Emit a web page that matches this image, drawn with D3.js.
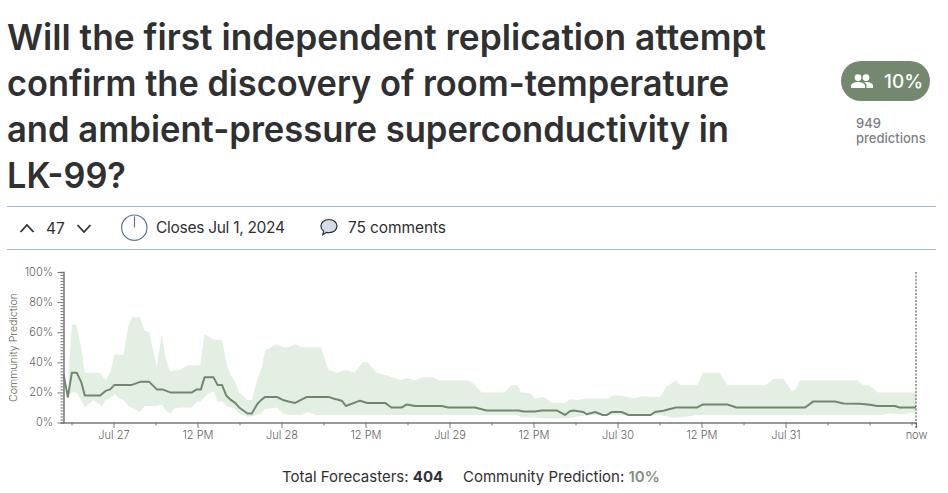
<!DOCTYPE html>
<html><head><meta charset="utf-8">
<script src="https://cdn.jsdelivr.net/npm/d3@7"></script>
<style>
html,body{margin:0;padding:0;background:#fff;overflow:hidden}
svg{display:block;font-family:Inter,sans-serif}
</style></head><body>
<svg id="c" width="948" height="493"></svg>
<script>
// Hours since Jul 27 00:00, value in %
const medianPts=[[-7.14,32],[-6.52,17],[-5.95,33],[-5.24,33],[-4.62,27],[-4.1,18],[-1.9,18],[-1.14,21],[-0.48,22],[0.14,25],[2.62,25],[3.81,27],[5.1,27],[6.19,22],[7,22],[8.1,20],[11.2,20],[11.9,22],[12.48,22],[13,30],[14.29,30],[14.86,25],[15.5,25],[16.1,18],[16.76,15],[17.38,13],[17.95,10],[19.14,6],[19.76,6],[20.5,12],[21.1,15],[21.67,17],[23.33,17],[24.19,15],[25,14],[25.95,13],[27.62,17],[30.69,17],[31.4,16],[32.6,14.5],[33.2,11],[35.2,14.5],[36.26,13],[38.8,13],[39.7,10],[41.2,10],[41.9,12],[43.07,11],[46.9,11],[47.83,10],[51.64,10],[53.3,8],[57.83,8],[58.55,7.3],[60.2,7.3],[61.2,8],[63.3,8],[64.5,5],[65.2,7.5],[65.7,8],[67.1,7],[67.6,5.5],[68.8,7],[69.9,5],[70.5,5],[71.2,7],[72.6,7],[73.55,5],[76.74,5],[77.36,7],[78.55,7.8],[79.5,9],[80.36,10],[83.4,10],[84.2,12],[87.7,12],[89,10],[98.8,10],[99.98,14],[103.07,14],[104.26,12.6],[106.65,12.4],[108.07,11.8],[109.1,11],[111.65,11],[112.27,10],[114.64,10]];
const upperPts=[[-7.14,32],[-6.52,20],[-6.33,40],[-5.95,65],[-5.33,65],[-4.62,50],[-4.1,33],[-1.9,33],[-1.14,28],[-0.48,33],[0.14,45],[1.43,45],[2.1,64],[2.62,70],[3.81,70],[4.43,61],[5.1,60],[6.19,37],[6.9,59],[7.48,42],[8.1,34],[9.52,35],[10.5,38],[12.38,38],[13,59],[14.29,55],[15.5,55],[16.2,38],[16.76,31],[17.29,28],[17.95,20],[19.14,15],[19.76,15],[20.5,28],[21.1,35],[21.67,48],[23.33,52],[24.19,50],[25,50],[25.95,52],[26.9,50],[29.64,50],[30.69,35],[31.88,33],[33.2,35],[34.4,33],[35.6,40],[36.26,40],[37.6,33],[39.26,31],[41.02,28],[41.8,29.5],[43.07,28],[44.26,30],[45.7,30],[46.4,28],[50.45,28],[51.4,26],[52.6,20],[55.9,20],[56.9,25],[57.7,25],[58.2,20],[59.5,19.5],[60.2,16],[61.2,17],[61.9,16],[62.6,13],[64.5,13],[65.2,15.5],[66.2,15],[67.6,16],[70.7,16],[71.2,18],[72.36,18],[74.5,16],[75.5,17.5],[78.07,17],[79,24],[80.36,28],[80.93,25],[83.4,25],[84.2,33],[86.55,33],[87.7,25],[93.2,25],[94.26,29],[95.7,29],[96.88,21],[97.45,22],[98.07,28],[106.17,28],[107.1,25],[108,24.6],[109.26,20],[114.64,20]];
const lowerPts=[[-7.14,32],[-6.52,17],[-5.95,20],[-5.33,20],[-4.62,15],[-4.1,10],[-2.86,15],[-1.67,11],[-1.14,15],[-0.48,16],[0.14,19],[0.86,16],[1.43,15],[2.14,11],[3.81,7],[4.43,11],[6.19,11],[6.9,12],[7.48,8],[8.1,6],[8.8,9.5],[9.52,10],[11.2,10],[11.9,14],[12.48,14],[13,17],[13.57,19],[14.29,21],[14.86,14],[15.5,14],[16.2,11],[17.38,9],[17.95,6],[19.14,4],[19.76,4],[21.1,6],[21.67,9],[23.33,10],[24.19,6],[25,5],[26.9,5],[27.62,7],[29,5],[57.6,5],[58.3,3.3],[60,3.3],[62.35,2.7],[64.7,2.7],[66.2,4],[68.5,5],[78,5],[80,3],[80.7,3.3],[82.6,4.4],[83,5],[109.5,5],[110.9,6],[112.36,5.3],[113.3,5.8],[114.64,7]];
const xTickHours=[-6,0,6,12,18,24,30,36,42,48,54,60,66,72,78,84,90,96,102,108,114,114.64];
const xTickLabels={0:"Jul 27",12:"12 PM",24:"Jul 28",36:"12 PM",48:"Jul 29",60:"12 PM",72:"Jul 30",84:"12 PM",96:"Jul 31",114.64:"now"};
const yMajor=[0,20,40,60,80,100];
const titleLines=["Will the first independent replication attempt","confirm the discovery of room-temperature","and ambient-pressure superconductivity in","LK-99?"];

const svg=d3.select("#c");
const ink="#2f3032";
const x=d3.scaleLinear().domain([0,114.64]).range([113.5,916]);
const y=d3.scaleLinear().domain([0,100]).range([422.5,272]);

// Title: each line fitted to the reference's measured width
const titleWidths=[759,722,722,119];
svg.append("g").selectAll("text").data(titleLines).join("text")
 .attr("x",7).attr("y",(d,i)=>50+i*46).text(d=>d)
 .attr("textLength",(d,i)=>titleWidths[i]).attr("lengthAdjust","spacingAndGlyphs")
 .attr("font-size",35.5).attr("font-weight",600).attr("fill",ink);

// Pill
svg.append("rect").attr("x",841).attr("y",61).attr("width",89).attr("height",40).attr("rx",20).attr("fill","#748870");
const u=svg.append("g").attr("fill","#fff").attr("transform","translate(851,74)");
u.append("circle").attr("cx",7).attr("cy",3.6).attr("r",3.4);
u.append("circle").attr("cx",15).attr("cy",3.6).attr("r",3.4);
u.append("path").attr("d","M0 14v-2.2c0-2.6 4-3.8 7-3.8s7 1.2 7 3.800V14z");
u.append("path").attr("d","M15.5 14v-2.4c0-1.5-.8-2.6-2-3.4.6-.1 1.2-.2 1.7-.2 3 0 6.8 1.2 6.8 3.6V14z");
svg.append("text").attr("x",884).attr("y",88).text("10%").attr("font-size",19).attr("font-weight",500).attr("fill","#fff");
svg.append("text").attr("x",856).attr("y",128).text("949").attr("font-size",13).attr("font-weight",500).attr("fill","#7b7f86");
svg.append("text").attr("x",856).attr("y",143).text("predictions").attr("font-size",13).attr("font-weight",500).attr("fill","#7b7f86");

// Toolbar
[206.5,249.5].forEach(v=>svg.append("line").attr("x1",7).attr("x2",936).attr("y1",v).attr("y2",v).attr("stroke","#a6b9d6").attr("stroke-width",1));
svg.append("path").attr("d","M20.500 232l6.500-7 6.500 7").attr("fill","none").attr("stroke",ink).attr("stroke-width",1.8);
svg.append("path").attr("d","M77.500 225l6.500 7 6.500-7").attr("fill","none").attr("stroke",ink).attr("stroke-width",1.8);
svg.append("text").attr("x",46).attr("y",233.500).text("47").attr("font-size",15.5).attr("fill",ink);
svg.append("circle").attr("cx",134.3).attr("cy",227.7).attr("r",12.7).attr("fill","none").attr("stroke","#62748e").attr("stroke-width",1.2);
svg.append("line").attr("x1",134.5).attr("x2",134.5).attr("y1",216.5).attr("y2",227.5).attr("stroke","#62748e").attr("stroke-width",1.2);
svg.append("text").attr("x",156).attr("y",233).text("Closes Jul 1, 2024").attr("textLength",129).attr("font-size",15.5).attr("fill",ink);
svg.append("path").attr("d","M329 219.500c4.800 0 8 3 8 6.600s-3.200 6.600-8 6.600c-.9 0-1.700-.1-2.500-.3l-3.700 2.400.8-3.700c-1.700-1.200-2.700-3-2.700-5 0-3.600 3.300-6.600 8.100-6.600z").attr("fill","#d4dce8").attr("stroke",ink).attr("stroke-width",1.2);
svg.append("text").attr("x",348).attr("y",233).text("75 comments").attr("textLength",98).attr("font-size",15.5).attr("fill",ink);

// Band, drawn as closed outline through the scales
const ln=d3.line().x(d=>x(d[0])).y(d=>y(d[1]));
svg.append("path").attr("d",ln(upperPts.concat(lowerPts.slice().reverse()))+"Z").attr("fill","#e3efe2");
svg.append("path").attr("d",ln(medianPts)).attr("fill","none").attr("stroke","#728770").attr("stroke-width",2).attr("stroke-linejoin","round");

// Axes
const axisColor="#777";
const yAxis=svg.append("g").attr("transform","translate(63.5,0)")
 .call(d3.axisLeft(y).tickValues(d3.range(0,101,2)).tickSize(3).tickFormat(""));
yAxis.selectAll(".tick").filter(d=>d%20===0).select("line").attr("x2",-6);
const xAxis=svg.append("g").attr("transform","translate(0,422.500)")
 .call(d3.axisBottom(x).tickValues(xTickHours).tickSize(3).tickFormat(d=>xTickLabels[d]||""));
xAxis.select(".domain").attr("d",`M63,0.5H${x(114.64)}`).attr("stroke-width",1.5);
yAxis.select(".domain").attr("stroke-width",1.5);
xAxis.selectAll(".tick").filter(d=>xTickLabels[d]).select("line").attr("y2",5.5);
[yAxis,xAxis].forEach(a=>{a.selectAll("line,path").attr("stroke",axisColor);a.attr("font-family",null).attr("font-size",null);});
xAxis.selectAll("text").attr("y",9).attr("font-size",11).attr("font-weight",300).attr("fill","#5f5f5f");
svg.append("g").selectAll("text").data(yMajor).join("text")
 .attr("x",53).attr("y",d=>y(d)+3.9).attr("text-anchor","end").text(d=>d+"%")
 .attr("font-size",11).attr("font-weight",300).attr("fill","#5f5f5f");
svg.append("text").attr("transform","translate(17.3,347.500) rotate(-90)").attr("text-anchor","middle")
 .text("Community Prediction").attr("font-size",10.6).attr("font-weight",300).attr("fill","#5f5f5f");
svg.append("line").attr("x1",x(114.64)).attr("x2",x(114.64)).attr("y1",272).attr("y2",428)
 .attr("stroke","#444").attr("stroke-width",1).attr("stroke-dasharray","2,1.500");

// Footer
const f=svg.append("text").attr("x",282).attr("y",482).attr("font-size",15).attr("fill",ink);
f.append("tspan").text("Total Forecasters: ");
f.append("tspan").text("404").attr("font-weight",700);
f.append("tspan").attr("x",463).text("Community Prediction: ");
f.append("tspan").text("10%").attr("font-weight",600).attr("fill","#7f927c");
</script>
</body></html>
